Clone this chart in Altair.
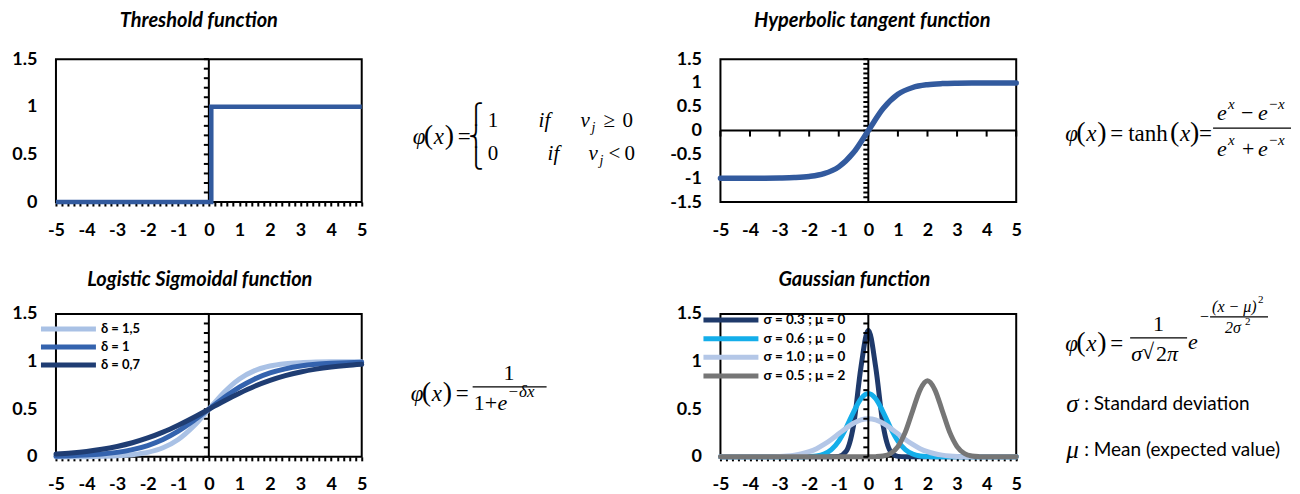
import altair as alt
import pandas as pd

FONT = "Lato"
SERIF = "Liberation Serif"

# ---------------- data ----------------
X_LABELS = [-5, -4, -3, -2, -1, 0, 1, 2, 3, 4, 5]
X_MINOR = [-5.0, -4.8, -4.6, -4.4, -4.2, -4.0, -3.8, -3.6, -3.4, -3.2, -3.0, -2.8, -2.6,
           -2.4, -2.2, -2.0, -1.8, -1.6, -1.4, -1.2, -1.0, -0.8, -0.6, -0.4, -0.2, 0.0,
           0.2, 0.4, 0.6, 0.8, 1.0, 1.2, 1.4, 1.6, 1.8, 2.0, 2.2, 2.4, 2.6, 2.8, 3.0,
           3.2, 3.4, 3.6, 3.8, 4.0, 4.2, 4.4, 4.6, 4.8, 5.0]
Y_LABELS_POS = [0, 0.5, 1, 1.5]
Y_LABELS_TANH = [-1.5, -1, -0.5, 0, 0.5, 1, 1.5]
Y_MINOR_POS = [0.0, 0.1, 0.2, 0.3, 0.4, 0.5, 0.6, 0.7, 0.8, 0.9, 1.0, 1.1, 1.2, 1.3, 1.4, 1.5]
Y_MINOR_TANH = [-1.5, -1.4, -1.3, -1.2, -1.1, -1.0, -0.9, -0.8, -0.7, -0.6, -0.5, -0.4, -0.3,
                -0.2, -0.1, 0.0, 0.1, 0.2, 0.3, 0.4, 0.5, 0.6, 0.7, 0.8, 0.9, 1.0, 1.1,
                1.2, 1.3, 1.4, 1.5]

THRESH_X = [-5, 0.08, 0.08, 5]
THRESH_Y = [0, 0, 1, 1]

X_HALF = [-5, -4.5, -4, -3.5, -3, -2.5, -2, -1.5, -1, -0.5, 0,
          0.5, 1, 1.5, 2, 2.5, 3, 3.5, 4, 4.5, 5]
TANH_Y = [-1.0, -1.0, -0.999, -0.998, -0.995, -0.987, -0.964, -0.905, -0.762, -0.462, 0.0,
          0.462, 0.762, 0.905, 0.964, 0.987, 0.995, 0.998, 0.999, 1.0, 1.0]

LOGI_NAMES = ["δ = 1,5", "δ = 1", "δ = 0,7"]
LOGI_COLORS = ["#a9c1e5", "#3463ae", "#1f3d73"]
LOGI_15 = [0.001, 0.001, 0.002, 0.005, 0.011, 0.023, 0.047, 0.095, 0.182, 0.321, 0.5,
           0.679, 0.818, 0.905, 0.953, 0.977, 0.989, 0.995, 0.998, 0.999, 0.999]
LOGI_10 = [0.007, 0.011, 0.018, 0.029, 0.047, 0.076, 0.119, 0.182, 0.269, 0.378, 0.5,
           0.622, 0.731, 0.818, 0.881, 0.924, 0.953, 0.971, 0.982, 0.989, 0.993]
LOGI_07 = [0.029, 0.041, 0.057, 0.079, 0.109, 0.148, 0.198, 0.259, 0.332, 0.413, 0.5,
           0.587, 0.668, 0.741, 0.802, 0.852, 0.891, 0.921, 0.943, 0.959, 0.971]

X_QUARTER = [-5, -4.75, -4.5, -4.25, -4, -3.75, -3.5, -3.25, -3, -2.75, -2.5, -2.25, -2,
             -1.75, -1.5, -1.25, -1, -0.75, -0.5, -0.25, 0, 0.25, 0.5, 0.75, 1, 1.25,
             1.5, 1.75, 2, 2.25, 2.5, 2.75, 3, 3.25, 3.5, 3.75, 4, 4.25, 4.5, 4.75, 5]
GAUSS_NAMES = ["σ = 0.3 ; μ = 0", "σ = 0.6 ; μ = 0", "σ = 1.0 ; μ = 0", "σ = 0.5 ; μ = 2"]
GAUSS_COLORS = ["#1f3a6b", "#14aeea", "#b4c7e7", "#767676"]
GAUSS_03 = [0, 0, 0, 0, 0, 0, 0, 0, 0, 0, 0, 0, 0, 0, 0, 0,
            0.005, 0.058, 0.332, 0.94, 1.33, 0.94, 0.332, 0.058, 0.005,
            0, 0, 0, 0, 0, 0, 0, 0, 0, 0, 0, 0, 0, 0, 0, 0]
GAUSS_06 = [0, 0, 0, 0, 0, 0, 0, 0, 0, 0, 0,
            0.001, 0.003, 0.009, 0.029, 0.076, 0.166, 0.305, 0.47, 0.61, 0.665,
            0.61, 0.47, 0.305, 0.166, 0.076, 0.029, 0.009, 0.003, 0.001,
            0, 0, 0, 0, 0, 0, 0, 0, 0, 0, 0]
GAUSS_10 = [0, 0, 0, 0, 0, 0, 0.001, 0.002, 0.004, 0.009, 0.018, 0.032, 0.054, 0.086,
            0.13, 0.183, 0.242, 0.301, 0.352, 0.387, 0.399, 0.387, 0.352, 0.301, 0.242,
            0.183, 0.13, 0.086, 0.054, 0.032, 0.018, 0.009, 0.004, 0.002, 0.001,
            0, 0, 0, 0, 0, 0]
GAUSS_05_2 = [0, 0, 0, 0, 0, 0, 0, 0, 0, 0, 0, 0, 0, 0, 0, 0, 0, 0, 0, 0, 0,
              0.002, 0.009, 0.035, 0.108, 0.259, 0.484, 0.704, 0.798, 0.704, 0.484,
              0.259, 0.108, 0.035, 0.009, 0.002, 0, 0, 0, 0, 0]

MAIN_BLUE = "#325a9e"

# ---------------- layout ----------------
W_L, W_R, H = 306, 296, 143
HSP, VSP = 10, 112
FORM_L, FORM_R = 339, 262
ORIG_X = [55, 55 + W_L + HSP, 55 + W_L + HSP + FORM_L + HSP,
          55 + W_L + HSP + FORM_L + HSP + W_R + HSP]
ORIG_Y = [58, 58 + H + VSP]

DUMMY = pd.DataFrame({"d": [0]})
LAB = 18


def xenc(ticks=True):
    return alt.X("x:Q", scale=alt.Scale(domain=[-5, 5], nice=False, zero=False),
                 axis=alt.Axis(values=X_MINOR if ticks else X_LABELS,
                               labelExpr="abs(datum.value - round(datum.value)) < 0.001 ? '' + round(datum.value) : ''",
                               ticks=ticks, tickSize=4 if ticks else 0, tickWidth=2,
                               tickColor="black", domain=False, grid=False,
                               labelFont=FONT, labelFontSize=LAB, labelFontWeight="bold",
                               labelColor="black", labelPadding=15 if ticks else 19,
                               labelOverlap=False, labelFlush=False, title=None))


def yenc(domain, values):
    return alt.Y("y:Q", scale=alt.Scale(domain=domain, nice=False, zero=False),
                 axis=alt.Axis(values=values, labelExpr="'' + datum.value", ticks=False,
                               tickSize=0, domain=False, grid=False, labelFont=FONT,
                               labelFontSize=LAB, labelFontWeight="bold", labelColor="black",
                               labelPadding=19, title=None))


def title(text, offset, dx, dy=0):
    return alt.TitleParams(text, font=FONT, fontSize=20, fontWeight="bold",
                           fontStyle="italic", color="black", offset=offset, dx=dx, dy=dy,
                           anchor="middle", baseline="bottom")


def zero_vline(xe):
    return alt.Chart(pd.DataFrame({"x": [0]})).mark_rule(color="black", strokeWidth=2).encode(x=xe)


def zero_vticks(xe, ye, vals):
    df = pd.DataFrame({"x": [0] * len(vals), "y": vals})
    return alt.Chart(df).mark_tick(orient="horizontal", size=5, thickness=2,
                                   color="black", xOffset=-2.5, opacity=1).encode(x=xe, y=ye)


def legend(lx, ly, lab_off, row_pad, fs):
    return alt.Legend(orient="none", legendX=lx, legendY=ly, title=None,
                      symbolType="M-5,0H5", symbolSize=121, symbolStrokeWidth=5,
                      symbolOpacity=1, labelFont=FONT, labelFontSize=fs,
                      labelFontWeight="bold", labelColor="black", labelOffset=lab_off,
                      rowPadding=row_pad, padding=0)


FRAME = alt.ViewBackground(stroke="black", strokeWidth=2, fill="white")

# ---------- Threshold ----------
xe = xenc(True)
ye = yenc([0, 1.5], Y_LABELS_POS)
thr_line = alt.Chart(pd.DataFrame({"x": THRESH_X, "y": THRESH_Y, "o": [0, 1, 2, 3]})).mark_line(
    color=MAIN_BLUE, strokeWidth=4.5, strokeJoin="miter").encode(x=xe, y=ye, order="o:Q")
pA = alt.layer(zero_vline(xe), zero_vticks(xe, ye, Y_MINOR_POS), thr_line).properties(
    width=W_L, height=H, title=title("Threshold function", 1, -10, 2), view=FRAME)

# ---------- Tanh ----------
xe_t = xenc(False)
ye_t = yenc([-1.5, 1.5], Y_LABELS_TANH)
hline = alt.Chart(pd.DataFrame({"y": [0]})).mark_rule(color="black", strokeWidth=2).encode(y=ye_t)
xt_df = pd.DataFrame({"x": X_LABELS, "y": [0] * len(X_LABELS)})
xticks_mid = alt.Chart(xt_df).mark_tick(orient="vertical", size=6, thickness=2, color="black",
                                        yOffset=3, opacity=1).encode(x=xe_t, y=ye_t)
tanh_line = alt.Chart(pd.DataFrame({"x": X_HALF, "y": TANH_Y})).mark_line(
    color=MAIN_BLUE, strokeWidth=5.5, interpolate="monotone", strokeCap="round").encode(x=xe_t, y=ye_t)
pB = alt.layer(hline, zero_vline(xe_t), zero_vticks(xe_t, ye_t, Y_MINOR_TANH), xticks_mid,
               tanh_line).properties(width=W_R, height=H,
                                     title=title("Hyperbolic tangent function", 1, 4, 2), view=FRAME)

# ---------- Logistic ----------
ye_l = yenc([0, 1.5], Y_LABELS_POS)
logi_scale = alt.Scale(domain=LOGI_NAMES, range=LOGI_COLORS)
logi_leg = legend(4.5, 7, 24.5, -3, 13)
logi_layers = []
for name, ys in zip(LOGI_NAMES, [LOGI_15, LOGI_10, LOGI_07]):
    df = pd.DataFrame({"x": X_HALF, "y": ys, "delta": [name] * len(X_HALF)})
    logi_layers.append(alt.Chart(df).mark_line(strokeWidth=5, interpolate="monotone",
                                               strokeCap="round").encode(
        x=xe, y=ye_l, color=alt.Color("delta:N", scale=logi_scale, legend=logi_leg)))
pC = alt.layer(zero_vline(xe), zero_vticks(xe, ye_l, Y_MINOR_POS), *logi_layers).properties(
    width=W_L, height=H, title=title("Logistic Sigmoidal function", 0, -9, 5), view=FRAME)

# ---------- Gaussian ----------
ye_g = yenc([0, 1.5], Y_LABELS_POS)
gauss_scale = alt.Scale(domain=GAUSS_NAMES, range=GAUSS_COLORS)
gauss_leg = legend(2.5, -2, 24.5, -1.3, 13.5)
gauss_layers = []
for name, ys in zip(GAUSS_NAMES, [GAUSS_03, GAUSS_06, GAUSS_10, GAUSS_05_2]):
    df = pd.DataFrame({"x": X_QUARTER, "y": ys, "sigma_mu": [name] * len(X_QUARTER)})
    gauss_layers.append(alt.Chart(df).mark_line(strokeWidth=5, interpolate="monotone",
                                                strokeCap="round").encode(
        x=xe, y=ye_g, color=alt.Color("sigma_mu:N", scale=gauss_scale, legend=gauss_leg)))
pD = alt.layer(*gauss_layers, zero_vline(xe), zero_vticks(xe, ye_g, Y_MINOR_POS)).properties(
    width=W_R, height=H, title=title("Gaussian function", 0, -14, 5), view=FRAME)


# ---------- formula panels ----------
def txt(s, x, y, size=23, italic=False, font=SERIF, weight="normal"):
    return alt.Chart(pd.DataFrame({"t": [s]})).mark_text(
        font=font, fontSize=size, fontStyle="italic" if italic else "normal",
        fontWeight=weight, align="left", baseline="middle", color="black").encode(
        x=alt.value(x), y=alt.value(y), text="t:N")


def bar(x1, x2, y, sw=1.3):
    return alt.Chart(DUMMY).mark_rule(color="black", strokeWidth=sw).encode(
        x=alt.value(x1), x2=alt.value(x2), y=alt.value(y))


def panel(ox, oy, w, pieces, bars):
    layers = [txt(s, x - ox, y - oy, **kw) for (s, x, y, kw) in pieces]
    layers += [bar(a - ox, b - ox, c - oy) for (a, b, c) in bars]
    return alt.layer(*layers).properties(width=w, height=H)


IT = {"italic": True}
BIGP = {"size": 28}


def phi(x0, y0):
    return [("φ", x0, y0, IT), ("(", x0 + 11, y0 - 1, BIGP), ("x", x0 + 21, y0, IT),
            (")", x0 + 32, y0 - 1, BIGP), ("=", x0 + 45, y0, {})]


fA_pieces = phi(412, 136) + [
    ("⎧", 468, 114, {"size": 20, "font": "DejaVu Sans"}),
    ("⎨", 468, 136, {"size": 20, "font": "DejaVu Sans"}),
    ("⎩", 468, 158, {"size": 20, "font": "DejaVu Sans"}),
    ("1", 487, 120, {"size": 21}), ("if", 538, 120, {"size": 21, "italic": True}),
    ("v", 580, 120, {"size": 21, "italic": True}), ("j", 591, 127, {"size": 14, "italic": True}),
    ("≥", 603, 120, {"size": 21}), ("0", 622, 120, {"size": 21}),
    ("0", 487, 153, {"size": 21}), ("if", 547, 153, {"size": 21, "italic": True}),
    ("v", 588, 153, {"size": 21, "italic": True}), ("j", 599, 160, {"size": 14, "italic": True}),
    ("<", 608, 153, {"size": 21}), ("0", 624, 153, {"size": 21}),
]
fA = panel(ORIG_X[1], ORIG_Y[0], FORM_L, fA_pieces, [])

SUP = {"size": 15, "italic": True}
fB_pieces = phi(1065, 133) + [
    ("tanh", 1128, 133, {}), ("(", 1170, 132, BIGP), ("x", 1180, 133, IT),
    (")", 1190, 132, BIGP), ("=", 1199, 133, {}),
    ("e", 1217, 112, {"size": 22, "italic": True}), ("x", 1228, 103, SUP),
    ("−", 1241, 112, {"size": 22}), ("e", 1258, 112, {"size": 22, "italic": True}),
    ("−x", 1268, 103, SUP),
    ("e", 1217, 148, {"size": 22, "italic": True}), ("x", 1228, 139, SUP),
    ("+", 1242, 148, {"size": 22}), ("e", 1258, 148, {"size": 22, "italic": True}),
    ("−x", 1268, 139, SUP),
]
fB = panel(ORIG_X[3], ORIG_Y[0], FORM_R, fB_pieces, [(1213, 1291, 127)])

fC_pieces = phi(410, 393) + [
    ("1", 503, 372, {"size": 22}),
    ("1", 473, 402, {"size": 22}), ("+", 484, 402, {"size": 22}),
    ("e", 497, 402, {"size": 22, "italic": True}), ("−δx", 507, 391, {"size": 17, "italic": True}),
]
fC = panel(ORIG_X[1], ORIG_Y[1], FORM_L, fC_pieces, [(472, 546, 386)])

fD_pieces = phi(1065, 343) + [
    ("1", 1153, 323, {"size": 22}),
    ("σ", 1131, 353, {"size": 22, "italic": True}), ("√", 1142, 351, {"size": 22}),
    ("2", 1156, 353, {"size": 22}), ("π", 1167, 353, {"size": 22, "italic": True}),
    ("e", 1188, 341, {"size": 22, "italic": True}),
    ("−", 1200, 316, {"size": 16}),
    ("(x − μ)", 1212, 306, {"size": 16, "italic": True}), ("2", 1258, 299, {"size": 11}),
    ("2σ", 1225, 327, {"size": 16, "italic": True}), ("2", 1245, 321, {"size": 11}),
    ("σ", 1066, 403, {"size": 25, "italic": True}),
    (": Standard deviation", 1084, 403, {"size": 19, "font": FONT}),
    ("μ", 1066, 449, {"size": 25, "italic": True}),
    (": Mean (expected value)", 1084, 449, {"size": 19, "font": FONT}),
]
fD = panel(ORIG_X[3], ORIG_Y[1], FORM_R, fD_pieces, [(1130, 1187, 337), (1210, 1268, 316)])

chart = alt.concat(pA, fA, pB, fB, pC, fC, pD, fD, columns=4, align="each",
                   spacing={"row": VSP, "column": HSP}, bounds="flush").properties(
    padding={"left": 2, "top": 2, "right": 0, "bottom": 0}, background="white"
).resolve_scale(color="independent").configure_view(stroke=None)

chart.save("out.html", embed_options={"renderer": "svg", "actions": False})
